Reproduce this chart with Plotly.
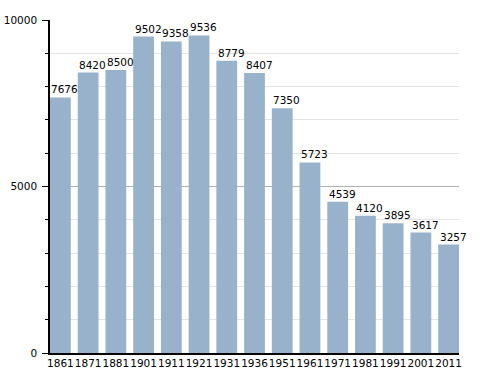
import plotly.graph_objects as go

years = ["1861", "1871", "1881", "1901", "1911", "1921", "1931", "1936",
         "1951", "1961", "1971", "1981", "1991", "2001", "2011"]
population = [7676, 8420, 8500, 9502, 9358, 9536, 8779, 8407,
              7350, 5723, 4539, 4120, 3895, 3617, 3257]
y_ticks = [0, 5000, 10000]

FS = 10.5

fig = go.Figure()
fig.add_trace(go.Bar(
    x=years, y=population,
    marker=dict(color="#99b2cb", line=dict(width=0)),
    hoverinfo="x+y",
))

for i, v in enumerate(population):
    fig.add_annotation(
        x=i, y=v, xref="x", yref="y", text=str(v), showarrow=False,
        xanchor="left", yanchor="bottom", xshift=-11, yshift=0,
        font=dict(family="DejaVu Sans", size=FS, color="#000000"),
    )

fig.update_layout(
    width=488, height=373,
    margin=dict(l=50, r=29, t=20, b=20, autoexpand=False),
    paper_bgcolor="white", plot_bgcolor="white",
    bargap=0.25,
    showlegend=False,
    font=dict(family="DejaVu Sans", size=FS, color="#000000"),
)
fig.update_xaxes(
    type="category",
    range=[-0.375, len(years) - 1 + 0.375],
    showline=True, linecolor="#000000", linewidth=1.5,
    ticks="", showgrid=False, tickangle=0, automargin=False,
    tickfont=dict(family="DejaVu Sans", size=FS, color="#000000"),
    fixedrange=True,
)
fig.update_yaxes(
    range=[0, 10000],
    tickvals=y_ticks, ticktext=[str(t) for t in y_ticks],
    showline=True, linecolor="#000000", linewidth=1.5,
    ticks="outside", ticklen=6, tickcolor="#000000", tickwidth=1,
    ticklabelstandoff=3,
    showgrid=True, gridcolor="#b0b0b0", gridwidth=1,
    zeroline=False, automargin=False,
    minor=dict(dtick=1000, ticks="outside", ticklen=3, tickcolor="#000000",
               showgrid=True, gridcolor="#e4e4e4", gridwidth=1),
    tickfont=dict(family="DejaVu Sans", size=FS, color="#000000"),
    fixedrange=True,
)

fig.write_html("out.html", config={"displayModeBar": False},
               post_script="document.body.style.margin='0';")
